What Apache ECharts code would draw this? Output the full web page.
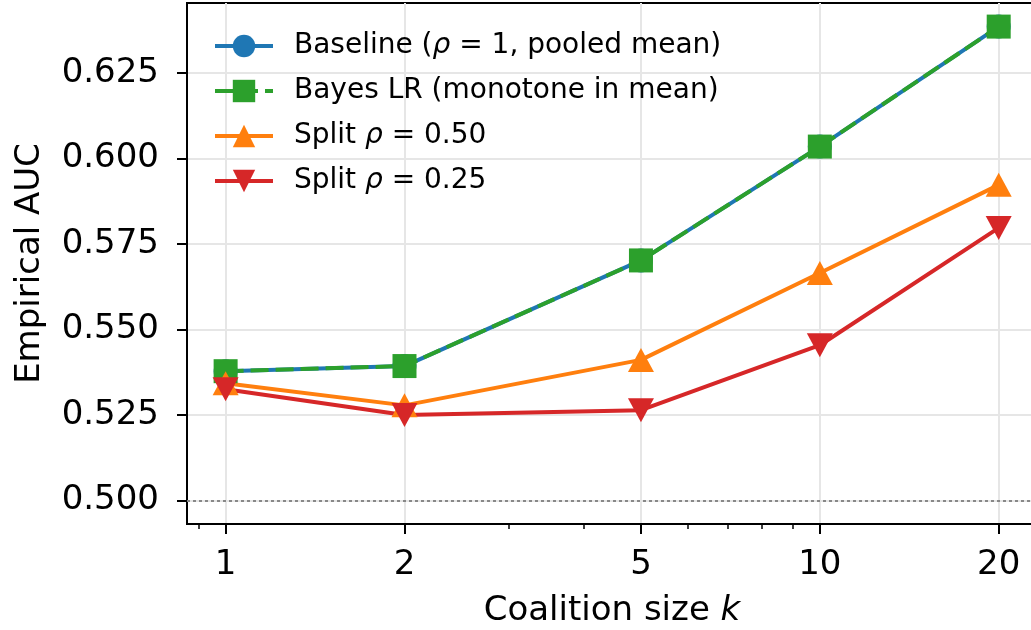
<!DOCTYPE html>
<html>
<head>
<meta charset="utf-8">
<script src="https://cdn.jsdelivr.net/npm/echarts@6/dist/echarts.min.js"></script>
<style>
  html, body { margin: 0; padding: 0; background: #fff; }
  #chart { width: 1031px; height: 630px; }
</style>
</head>
<body>
<div id="chart"></div>
<script>
// coalition sizes on the x axis
var kValues = [1, 2, 5, 10, 20];
// empirical AUC per method
var baseline = [0.5378, 0.5393, 0.5702, 0.6035, 0.6386];
var bayesLR = [0.5378, 0.5393, 0.5702, 0.6035, 0.6386];
var split050 = [0.5343, 0.5278, 0.5411, 0.5665, 0.5923];
var split025 = [0.5325, 0.5250, 0.5264, 0.5454, 0.5797];
// tick labels
var xTicks = [1, 2, 5, 10, 20];
var xMinorTicks = [0.9, 3, 4, 6, 7, 8, 9];
var yTicks = [0.500, 0.525, 0.550, 0.575, 0.600, 0.625];
var chanceLevel = 0.5;

var font = 'DejaVu Sans';

function pairs(ys) {
    return kValues.map(function (k, i) { return [k, ys[i]]; });
}

var chart = echarts.init(document.getElementById('chart'));

var option = {
    animation: false,
    backgroundColor: '#fff',
    grid: {
        left: 187, top: 3, width: 850, height: 521,
        outerBoundsMode: 'none', containLabel: false,
        show: true, borderColor: '#000', borderWidth: 2, backgroundColor: 'transparent'
    },
    legend: {
        orient: 'vertical',
        left: 208, top: 27,
        itemWidth: 58, itemHeight: 28, itemGap: 17,
        lineStyle: { width: 4 },
        textStyle: {
            fontFamily: font, fontSize: 28, color: '#000',
            padding: [0, 0, 0, 16],
            rich: {
                i: { fontFamily: font, fontSize: 28, fontStyle: 'italic', color: '#000' }
            }
        },
        formatter: function (name) {
            return name.replace('ρ', '{i|ρ}');
        },
        data: ['Baseline (ρ = 1, pooled mean)', 'Bayes LR (monotone in mean)', 'Split ρ = 0.50', 'Split ρ = 0.25']
    },
    xAxis: [{
        type: 'log', logBase: 10, min: 0.861, max: 23.2,
        name: 'Coalition size {i|k}',
        nameLocation: 'middle', nameGap: 70, nameMoveOverlap: false,
        nameTextStyle: {
            fontFamily: font, fontSize: 34, color: '#000', verticalAlign: 'top',
            rich: { i: { fontFamily: font, fontSize: 34, fontStyle: 'italic', color: '#000' } }
        },
        axisLine: { show: true, lineStyle: { color: '#000', width: 2 } },
        axisTick: { show: true, length: 10, lineStyle: { color: '#000', width: 2 }, customValues: xTicks },
        axisLabel: {
            fontFamily: font, fontSize: 34, color: '#000', margin: 24,
            customValues: xTicks,
            formatter: function (v) { return String(Math.round(v)); }
        },
        splitLine: { show: true, lineStyle: { color: '#e6e6e6', width: 2 } },
        minorTick: { show: false }
    }, {
        type: 'log', logBase: 10, min: 0.861, max: 23.2,
        position: 'bottom',
        axisLine: { show: false },
        axisTick: { show: true, length: 5, lineStyle: { color: '#000', width: 1.5 }, customValues: xMinorTicks },
        axisLabel: { show: false },
        splitLine: { show: false }
    }],
    yAxis: {
        type: 'value', min: 0.4931, max: 0.6455,
        name: 'Empirical AUC',
        nameLocation: 'middle', nameGap: 140,
        nameTextStyle: { fontFamily: font, fontSize: 34, color: '#000' },
        axisLine: { show: true, lineStyle: { color: '#000', width: 2 } },
        axisTick: { show: true, length: 10, lineStyle: { color: '#000', width: 2 }, customValues: yTicks },
        axisLabel: {
            fontFamily: font, fontSize: 34, color: '#000', margin: 28,
            customValues: yTicks,
            formatter: function (v) { return v.toFixed(3); }
        },
        splitLine: { show: true, lineStyle: { color: '#e6e6e6', width: 2 } }
    },
    series: [{
        name: 'Baseline (ρ = 1, pooled mean)',
        type: 'line',
        data: pairs(baseline),
        symbol: 'circle', symbolSize: 24,
        itemStyle: { color: '#1f77b4' },
        lineStyle: { color: '#1f77b4', width: 4 },
        markLine: {
            silent: true, symbol: 'none', label: { show: false },
            lineStyle: { color: '#888', type: [3, 3], width: 2 },
            data: [{ yAxis: chanceLevel }]
        }
    }, {
        name: 'Bayes LR (monotone in mean)',
        type: 'line',
        data: pairs(bayesLR),
        symbol: 'rect', symbolSize: 24,
        itemStyle: { color: '#2ca02c' },
        lineStyle: { color: '#2ca02c', width: 4, type: [18, 7] }
    }, {
        name: 'Split ρ = 0.50',
        type: 'line',
        data: pairs(split050),
        symbol: 'triangle', symbolSize: [26, 24],
        itemStyle: { color: '#ff7f0e' },
        lineStyle: { color: '#ff7f0e', width: 4 }
    }, {
        name: 'Split ρ = 0.25',
        type: 'line',
        data: pairs(split025),
        symbol: 'triangle', symbolRotate: 180, symbolSize: [26, 24],
        itemStyle: { color: '#d62728' },
        lineStyle: { color: '#d62728', width: 4 }
    }]
};

chart.setOption(option);
</script>
</body>
</html>
